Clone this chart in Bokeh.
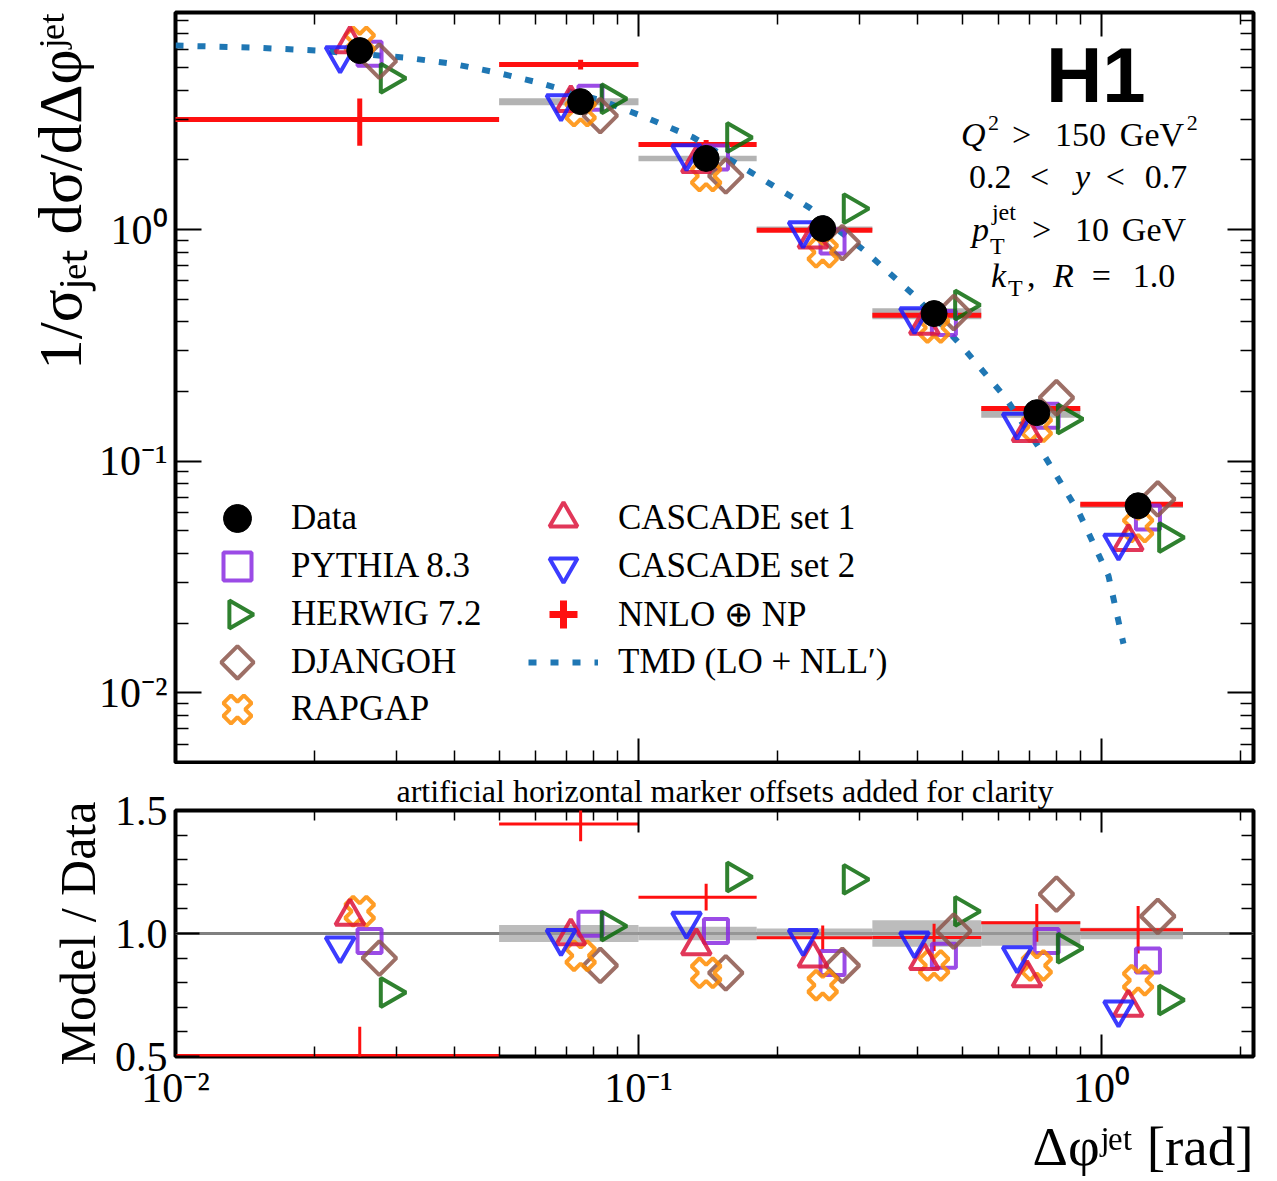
import math
from bokeh.plotting import figure
from bokeh.models import (FixedTicker, CustomJSTickFormatter, LogAxis, LinearAxis,
                          Range1d, Legend, LegendItem, Label, Title, Span)
from bokeh.layouts import column
from bokeh.embed import file_html
from bokeh.resources import INLINE

SERIF = "Liberation Serif"

# ---------------- data ----------------
bin_lo = [0.0, 0.05, 0.10, 0.18, 0.32, 0.55, 0.90]
bin_hi = [0.05, 0.10, 0.18, 0.32, 0.55, 0.90, 1.50]
bin_center = [0.025, 0.075, 0.14, 0.25, 0.435, 0.725, 1.2]

data_val = [5.93, 3.57, 2.03, 1.01, 0.434, 0.162, 0.0642]
data_err = [0.05, 0.03, 0.015, 0.008, 0.004, 0.002, 0.001]
data_unc_rel = [0.0, 0.035, 0.027, 0.020, 0.054, 0.050, 0.023]

nnlo_val = [2.99, 5.16, 2.33, 0.993, 0.427, 0.169, 0.0652]
nnlo_err = [0.69, 0.25, 0.11, 0.050, 0.024, 0.0125, 0.0062]

ratio_pythia = [0.97, 1.04, 1.01, 0.88, 0.91, 0.97, 0.89]
ratio_herwig = [0.76, 1.03, 1.23, 1.22, 1.09, 0.94, 0.73]
ratio_djangoh = [0.90, 0.87, 0.84, 0.87, 1.01, 1.16, 1.07]
ratio_rapgap = [1.09, 0.91, 0.84, 0.79, 0.87, 0.87, 0.81]
ratio_cascade1 = [1.07, 0.99, 0.95, 0.90, 0.89, 0.82, 0.70]
ratio_cascade2 = [0.95, 0.98, 1.05, 0.98, 0.97, 0.91, 0.69]

tmd_x = [0.01, 0.01459, 0.02016, 0.03125, 0.03946, 0.04935, 0.06081, 0.0832, 0.1051,
         0.1315, 0.1754, 0.234, 0.3077, 0.3946, 0.4985, 0.6205, 0.753, 0.8965, 1.0354, 1.1156]
tmd_y = [6.234, 6.112, 5.933, 5.534, 5.213, 4.767, 4.315, 3.608, 3.017,
         2.497, 1.763, 1.245, 0.8114, 0.5187, 0.3153, 0.188, 0.1056, 0.05932, 0.03201, 0.01628]

x_major_ticks = [0.01, 0.1, 1.0]
x_minor_ticks = [m * d for d in (0.01, 0.1, 1.0) for m in range(2, 10)]
y_major_ticks = [0.01, 0.1, 1.0]
y_minor_ticks = [m * d for d in (0.001, 0.01, 0.1, 1.0) for m in range(2, 10)]
ratio_major_ticks = [0.5, 1.0, 1.5]
ratio_minor_ticks = [0.6, 0.7, 0.8, 0.9, 1.1, 1.2, 1.3, 1.4]

OFFSET = 1.05  # multiplicative horizontal marker offset per step

# name, ratios, marker, colour, angle, size, offset step
models = [
    ("PYTHIA 8.3", ratio_pythia, "square", "#8a2be2", 0.0, 24, 1),
    ("HERWIG 7.2", ratio_herwig, "triangle", "#0b6b0b", -math.pi / 2, 29, 3),
    ("DJANGOH", ratio_djangoh, "square", "#8c564b", math.pi / 4, 24, 2),
    ("RAPGAP", ratio_rapgap, "plus", "#ff8c00", math.pi / 4, 30, 0),
    ("CASCADE set 1", ratio_cascade1, "triangle", "#dc143c", 0.0, 29, -1),
    ("CASCADE set 2", ratio_cascade2, "inverted_triangle", "#1a1aff", 0.0, 29, -2),
]

LOG_FMT = CustomJSTickFormatter(code="""
const e = Math.round(Math.log10(tick));
const m = {'-': '\u207b', '0': '\u2070', '1': '\u00b9', '2': '\u00b2', '3': '\u00b3'};
return '10' + String(e).split('').map(c => m[c]).join('');
""")
EMPTY_FMT = CustomJSTickFormatter(code="return '';")
RATIO_FMT = CustomJSTickFormatter(code="return tick.toFixed(1);")


def style_axis(ax, ticker, fmt, maj, mnr, labels):
    ax.ticker = ticker
    ax.formatter = fmt
    ax.major_tick_in = maj
    ax.major_tick_out = 0
    ax.minor_tick_in = mnr
    ax.minor_tick_out = 0
    ax.major_tick_line_width = 2
    ax.minor_tick_line_width = 1.5
    ax.major_tick_line_color = "black"
    ax.minor_tick_line_color = "black"
    ax.axis_line_color = None
    if labels:
        ax.major_label_text_font = SERIF
        ax.major_label_text_font_size = "42px"
        ax.major_label_text_color = "black"
        ax.major_label_standoff = 8
    else:
        ax.major_label_text_font_size = "0px"
        ax.major_label_standoff = 0


def base_fig(height, y_type, y_range, x_range, top, bottom):
    p = figure(width=1273, height=height, x_axis_type="log", y_axis_type=y_type,
               x_range=x_range, y_range=y_range, output_backend="svg",
               toolbar_location=None, min_border_left=175, min_border_right=20,
               min_border_top=top, min_border_bottom=bottom)
    p.grid.visible = False
    p.outline_line_color = "black"
    p.outline_line_width = 4
    p.outline_line_alpha = 1.0
    p.background_fill_color = "white"
    p.border_fill_color = "white"
    return p


lo_plot = [max(v, 1e-4) for v in bin_lo]

# ================= top panel =================
p1 = base_fig(764, "log", Range1d(0.005, 8.66), Range1d(0.01, 2.13), 12, 2)
p1.add_layout(LogAxis(), "above")
p1.add_layout(LogAxis(), "right")
xt = FixedTicker(ticks=x_major_ticks, minor_ticks=x_minor_ticks)
yt = FixedTicker(ticks=y_major_ticks, minor_ticks=y_minor_ticks)
style_axis(p1.below[0], xt, EMPTY_FMT, 24, 12, False)
style_axis(p1.above[0], xt, EMPTY_FMT, 24, 12, False)
style_axis(p1.left[0], yt, LOG_FMT, 26, 13, True)
style_axis(p1.right[0], yt, EMPTY_FMT, 26, 13, False)
p1.add_layout(Title(text="1/\u03c3\u2c7c\u2091\u209c d\u03c3/d\u0394\u03c6\u02b2\u1d49\u1d57", align="right",
                    text_font=SERIF, text_font_size="61px", text_font_style="normal",
                    text_color="black", standoff=4), "left")

# data uncertainty band
p1.quad(left=lo_plot, right=bin_hi,
        bottom=[v * (1 - u) for v, u in zip(data_val, data_unc_rel)],
        top=[v * (1 + u) for v, u in zip(data_val, data_unc_rel)],
        fill_color="#b3b3b3", line_color=None)
# NNLO
p1.segment(x0=lo_plot, y0=nnlo_val, x1=bin_hi, y1=nnlo_val, line_color="#ff1010", line_width=5)
p1.segment(x0=bin_center, y0=[v - e for v, e in zip(nnlo_val, nnlo_err)],
           x1=bin_center, y1=[v + e for v, e in zip(nnlo_val, nnlo_err)],
           line_color="#ff1010", line_width=5)
r_nnlo = p1.scatter(bin_center, nnlo_val, marker="cross", size=1, line_color="#ff1010", line_width=7)
# TMD
r_tmd = p1.line(tmd_x, tmd_y, line_color="#1f77b4", line_width=6, line_dash="8 14")

rend = {}
for name, ratios, marker, color, angle, size, step in models:
    xs = [c * OFFSET ** step for c in bin_center]
    ys = [r * d for r, d in zip(ratios, data_val)]
    rend[name] = p1.scatter(xs, ys, marker=marker, size=size, angle=angle,
                            line_color=color, line_width=4, line_alpha=0.85, fill_color=None)

r_derr = p1.segment(x0=bin_center, y0=[v - e for v, e in zip(data_val, data_err)],
                    x1=bin_center, y1=[v + e for v, e in zip(data_val, data_err)],
                    line_color="black", line_width=2)
r_data = p1.scatter(bin_center, data_val, marker="circle", size=26, fill_color="black", line_color="black")
# invisible renderer used for legend entries whose key is drawn separately (rotated markers)
r_blank = p1.scatter(bin_center, data_val, size=1, fill_alpha=0, line_alpha=0)


# reference-pixel -> data helpers (for legend keys and text annotations only)
def fx(px):
    return 10 ** (-2 + (px - 175) / 463.3)


def fy(py):
    return 10 ** (math.log10(8.66) - (py - 12) / 231.6)


FRAME_BOTTOM = 762
GB = 70  # legend glyph box
legend_rows = [
    # label, renderers, key centre x (ref px), row centre y (ref px), label start x (ref px)
    ("Data", [r_data], 237, 518, 291),
    ("PYTHIA 8.3", [rend["PYTHIA 8.3"]], 237, 566, 291),
    ("HERWIG 7.2", [r_blank], 237, 614, 291),
    ("DJANGOH", [r_blank], 237, 662, 291),
    ("RAPGAP", [r_blank], 237, 709, 291),
    ("CASCADE set 1", [rend["CASCADE set 1"]], 563, 518, 618),
    ("CASCADE set 2", [rend["CASCADE set 2"]], 563, 566, 618),
    ("NNLO \u2295 NP", [r_nnlo], 563, 614, 618),
    ("TMD (LO + NLL\u2032)", [r_tmd], 563, 662, 618),
]
for label, rs, kx, ky, lx in legend_rows:
    left = kx - GB // 2
    leg = Legend(items=[LegendItem(label=label, renderers=rs)],
                 location=(left - 175, FRAME_BOTTOM - (ky + GB // 2)),
                 glyph_width=GB, glyph_height=GB, spacing=0, label_standoff=lx - left - GB,
                 padding=0, margin=0, label_text_font=SERIF, label_text_font_size="35px",
                 label_text_color="black", background_fill_alpha=0, border_line_alpha=0)
    p1.add_layout(leg)

# keys for rotated markers (Bokeh legends ignore marker angles)
for name, ky in (("HERWIG 7.2", 614), ("DJANGOH", 662), ("RAPGAP", 709)):
    m = [t for t in models if t[0] == name][0]
    p1.scatter([fx(237)], [fy(ky)], marker=m[2], size=m[5] - 1, angle=m[4],
               line_color=m[3], line_width=4, line_alpha=0.85, fill_color=None)

BASE_SHIFT = 0.35  # Bokeh places 'alphabetic' anchors ~0.35 em above the glyph baseline


def txt(s, px, py, size=34, style="normal", font=SERIF, align="left"):
    p1.add_layout(Label(x=fx(px), y=fy(py - BASE_SHIFT * size), text=s, text_font=font,
                        text_font_size=f"{size}px", text_font_style=style, text_align=align,
                        text_baseline="alphabetic", text_color="black"))


txt("H1", 1096, 102, 78, "bold", "Liberation Sans", "center")
# Q^2 > 150 GeV^2
txt("Q", 961, 146, style="italic")
txt("2", 988, 130, 22)
txt(">", 1012, 146)
txt("150", 1055, 146)
txt("GeV", 1120, 146)
txt("2", 1187, 130, 22)
# 0.2 < y < 0.7
txt("0.2", 969, 188)
txt("<", 1030, 188)
txt("y", 1075, 188, style="italic")
txt("<", 1106, 188)
txt("0.7", 1145, 188)
# p_T^jet > 10 GeV
txt("p", 972, 241, style="italic")
txt("jet", 992, 220, 24)
txt("T", 990, 254, 24)
txt(">", 1032, 241)
txt("10", 1075, 241)
txt("GeV", 1122, 241)
# k_T, R = 1.0
txt("k", 991, 287, style="italic")
txt("T", 1008, 296, 24)
txt(",", 1027, 287)
txt("R", 1053, 287, style="italic")
txt("=", 1092, 287)
txt("1.0", 1133, 287)

# ================= ratio panel =================
p2 = base_fig(412, "linear", Range1d(0.5, 1.5), p1.x_range, 46, 116)
p2.add_layout(LogAxis(), "above")
p2.add_layout(LinearAxis(), "right")
rt = FixedTicker(ticks=ratio_major_ticks, minor_ticks=ratio_minor_ticks)
style_axis(p2.below[0], xt, LOG_FMT, 22, 10, True)
style_axis(p2.above[0], xt, EMPTY_FMT, 22, 10, False)
style_axis(p2.left[0], rt, RATIO_FMT, 24, 12, True)
style_axis(p2.right[0], rt, EMPTY_FMT, 24, 12, False)
p2.left[0].axis_label = "Model / Data"
p2.left[0].axis_label_text_font = SERIF
p2.left[0].axis_label_text_font_size = "50px"
p2.left[0].axis_label_text_font_style = "normal"
p2.left[0].axis_label_text_color = "black"
p2.left[0].axis_label_standoff = 6
p2.add_layout(Title(text="artificial horizontal marker offsets added for clarity", align="left",
                    offset=221, text_font=SERIF, text_font_size="32px", text_font_style="normal",
                    text_color="black", standoff=3), "above")
p2.add_layout(Title(text="\u0394\u03c6\u02b2\u1d49\u1d57 [rad]", align="right",
                    text_font=SERIF, text_font_size="55px", text_font_style="normal",
                    text_color="black", standoff=0), "below")

p2.add_layout(Span(location=1.0, dimension="width", line_color="#808080", line_width=3,
                   level="underlay"))
p2.quad(left=lo_plot, right=bin_hi,
        bottom=[1 - u for u in data_unc_rel], top=[1 + u for u in data_unc_rel],
        fill_color="#a0a0a0", fill_alpha=0.7, line_color=None)
nn_ratio = [n / d for n, d in zip(nnlo_val, data_val)]
nn_rerr = [e / d for e, d in zip(nnlo_err, data_val)]
p2.segment(x0=lo_plot, y0=nn_ratio, x1=bin_hi, y1=nn_ratio, line_color="#ff1010", line_width=3)
p2.segment(x0=bin_center, y0=[r - e for r, e in zip(nn_ratio, nn_rerr)],
           x1=bin_center, y1=[r + e for r, e in zip(nn_ratio, nn_rerr)],
           line_color="#ff1010", line_width=3)
for name, ratios, marker, color, angle, size, step in models:
    xs = [c * OFFSET ** step for c in bin_center]
    p2.scatter(xs, ratios, marker=marker, size=size, angle=angle,
               line_color=color, line_width=4, line_alpha=0.85, fill_color=None)

layout = column(p1, p2, spacing=0)
open("out.html", "w").write(file_html(layout, INLINE))
